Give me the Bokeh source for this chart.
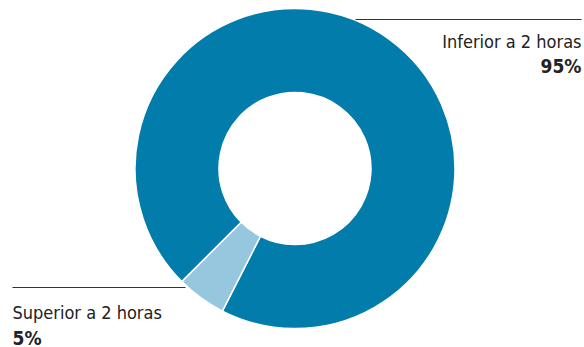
import math
from bokeh.plotting import figure
from bokeh.models import Range1d
from bokeh.core.properties import value
from bokeh.embed import file_html
from bokeh.resources import INLINE

categories = ["Inferior a 2 horas", "Superior a 2 horas"]
shares = [95, 5]
pct_labels = ["95%", "5%"]
colors = ["#027CAA", "#97C6DF"]

W, H = 584, 347
p = figure(width=W, height=H, output_backend="svg", toolbar_location=None,
           x_range=Range1d(0, W), y_range=Range1d(0, H),
           min_border=0)
p.axis.visible = False
p.grid.visible = False
p.outline_line_color = None
p.background_fill_color = "white"
p.border_fill_color = "white"

def Y(img_y):
    return H - img_y

cx, cy = 294.5, Y(168)
r_out, r_in = 160, 76
offset = math.radians(243)
total = sum(shares)
starts, ends = [], []
acc = 0.0
for v in shares:
    starts.append(offset + 2 * math.pi * acc / total)
    acc += v
    ends.append(offset + 2 * math.pi * acc / total)

p.annular_wedge(x=[cx] * len(shares), y=[cy] * len(shares),
                inner_radius=r_in, outer_radius=r_out,
                inner_radius_units="screen", outer_radius_units="screen",
                start_angle=starts, end_angle=ends,
                fill_color=colors, line_color="white", line_width=1.5)

FONT = "DejaVu Sans Condensed"

# leader lines
p.line(x=[355, 581], y=[Y(19), Y(19)], line_color="#333333", line_width=1)
p.line(x=[12, 185], y=[Y(287), Y(287)], line_color="#333333", line_width=1)

# labels
p.text(x=[581], y=[Y(40.5)], text=[categories[0]], text_align="right",
       text_baseline="alphabetic", text_font=value(FONT),
       text_font_size="18px", text_color="#222222")
p.text(x=[581], y=[Y(65)], text=[pct_labels[0]], text_align="right",
       text_baseline="alphabetic", text_font=value(FONT),
       text_font_size="19px", text_font_style="bold", text_color="#222222")
p.text(x=[12], y=[Y(311.5)], text=[categories[1]], text_align="left",
       text_baseline="alphabetic", text_font=value(FONT),
       text_font_size="18px", text_color="#222222")
p.text(x=[12], y=[Y(337)], text=[pct_labels[1]], text_align="left",
       text_baseline="alphabetic", text_font=value(FONT),
       text_font_size="19px", text_font_style="bold", text_color="#222222")

open("out.html", "w").write(file_html(p, INLINE))
